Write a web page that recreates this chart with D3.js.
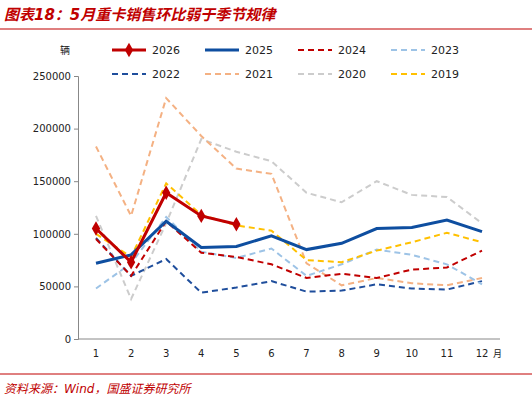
<!DOCTYPE html>
<html lang="zh">
  <head>
    <meta charset="UTF-8" />
    <title>重卡销售</title>
    <style>
      body { margin: 0; background: #fff; }
      text { font-family: "DejaVu Sans", "Noto Sans CJK SC", sans-serif; }
    </style>
  </head>
  <body>
    <svg id="svg" width="532" height="403"></svg>
    <script src="https://cdn.jsdelivr.net/npm/d3@7"></script>
    <script>
      const months = [1, 2, 3, 4, 5, 6, 7, 8, 9, 10, 11, 12];
      const yTicks = [0, 50000, 100000, 150000, 200000, 250000];
      const s2026 = [105000, 73000, 139000, 117000, 109000];
      const s2025 = [72000, 80000, 112000, 87000, 88000, 98000, 85000, 91000, 105000, 106000, 113000, 102000];
      const s2024 = [95000, 60000, 112000, 82000, 78000, 71000, 58000, 62000, 58000, 66000, 68000, 84000];
      const s2023 = [48000, 72000, 116000, 83000, 77000, 86000, 60000, 71000, 85000, 80000, 71000, 52000];
      const s2022 = [96000, 60000, 76000, 44000, 49000, 55000, 45000, 46000, 52000, 48000, 47000, 55000];
      const s2021 = [183000, 117000, 229000, 193000, 162000, 157000, 72000, 51000, 58000, 53000, 51000, 58000];
      const s2020 = [117000, 38000, 110000, 190000, 178000, 169000, 139000, 130000, 150000, 137000, 135000, 110000];
      const s2019 = [100000, 78000, 148000, 118000, 108000, 103000, 75000, 73000, 84000, 92000, 101000, 92000];

      // drawing order: back to front
      const series = [
        { name: "2020", values: s2020, color: "#cccccc", dash: "6,4", width: 2 },
        { name: "2021", values: s2021, color: "#f4b183", dash: "6,4", width: 2 },
        { name: "2022", values: s2022, color: "#1f4e9c", dash: "6,4", width: 2 },
        { name: "2023", values: s2023, color: "#9dc3e6", dash: "6,4", width: 2 },
        { name: "2024", values: s2024, color: "#c00000", dash: "6,4", width: 2 },
        { name: "2019", values: s2019, color: "#ffc000", dash: "6,4", width: 2 },
        { name: "2025", values: s2025, color: "#0e4ea0", dash: null, width: 3 },
        { name: "2026", values: s2026, color: "#c00000", dash: null, width: 3, marker: true },
      ];
      const legendOrder = ["2026", "2025", "2024", "2023", "2022", "2021", "2020", "2019"];

      const svg = d3.select("#svg");
      const x = d3.scalePoint().domain(months).range([96, 482]);
      const y = d3.scaleLinear().domain([0, 250000]).range([339, 76]);

      // title
      svg.append("text").attr("x", 4).attr("y", 20)
        .attr("fill", "#c00000").attr("font-size", 15).attr("font-style", "italic")
        .attr("font-weight", "bold").text("图表18：5月重卡销售环比弱于季节规律");
      svg.append("line").attr("x1", 0).attr("x2", 532).attr("y1", 29).attr("y2", 29)
        .attr("stroke", "#c00000").attr("stroke-width", 1.2);

      // axes
      const yAxis = svg.append("g").attr("transform", "translate(78,0)")
        .call(d3.axisLeft(y).tickValues(yTicks).tickSize(4).tickFormat(d3.format("d")));
      yAxis.selectAll("text").attr("font-size", 10).attr("fill", "#222");
      yAxis.selectAll("path,line").attr("stroke", "#888");
      svg.append("line").attr("x1", 78).attr("x2", 500).attr("y1", 339).attr("y2", 339).attr("stroke", "#888");
      months.forEach((m) => {
        svg.append("text").attr("x", x(m)).attr("y", 357).attr("text-anchor", "middle")
          .attr("font-size", 10).attr("fill", "#222").text(m);
      });
      svg.append("text").attr("x", 493).attr("y", 357).attr("font-size", 9).attr("fill", "#222").text("月");
      svg.append("text").attr("x", 60).attr("y", 54).attr("font-size", 10).attr("fill", "#222").text("辆");

      const line = d3.line().x((d, i) => x(months[i])).y((d) => y(d));
      series.forEach((s) => {
        svg.append("path").datum(s.values).attr("d", line).attr("fill", "none")
          .attr("stroke", s.color).attr("stroke-width", s.width)
          .attr("stroke-dasharray", s.dash);
        if (s.marker) {
          svg.selectAll(null).data(s.values).enter().append("path")
            .attr("d", d3.symbol(d3.symbolDiamond, 60))
            .attr("transform", (d, i) => `translate(${x(months[i])},${y(d)})`)
            .attr("fill", s.color);
        }
      });

      // legend
      const byName = Object.fromEntries(series.map((s) => [s.name, s]));
      legendOrder.forEach((n, i) => {
        const s = byName[n];
        const lx = 112 + (i % 4) * 93;
        const ly = 50 + Math.floor(i / 4) * 24;
        svg.append("line").attr("x1", lx).attr("x2", lx + 34).attr("y1", ly).attr("y2", ly)
          .attr("stroke", s.color).attr("stroke-width", s.width).attr("stroke-dasharray", s.dash);
        if (s.marker) {
          svg.append("path").attr("d", d3.symbol(d3.symbolDiamond, 60))
            .attr("transform", `translate(${lx + 17},${ly})`).attr("fill", s.color);
        }
        svg.append("text").attr("x", lx + 40).attr("y", ly + 4).attr("font-size", 11)
          .attr("fill", "#222").text(n);
      });

      // footer
      svg.append("line").attr("x1", 0).attr("x2", 532).attr("y1", 374).attr("y2", 374)
        .attr("stroke", "#c00000").attr("stroke-width", 1);
      svg.append("text").attr("x", 4).attr("y", 393).attr("font-size", 12)
        .attr("font-style", "italic").attr("fill", "#c00000").text("资料来源：Wind，国盛证券研究所");
    </script>
  </body>
</html>
